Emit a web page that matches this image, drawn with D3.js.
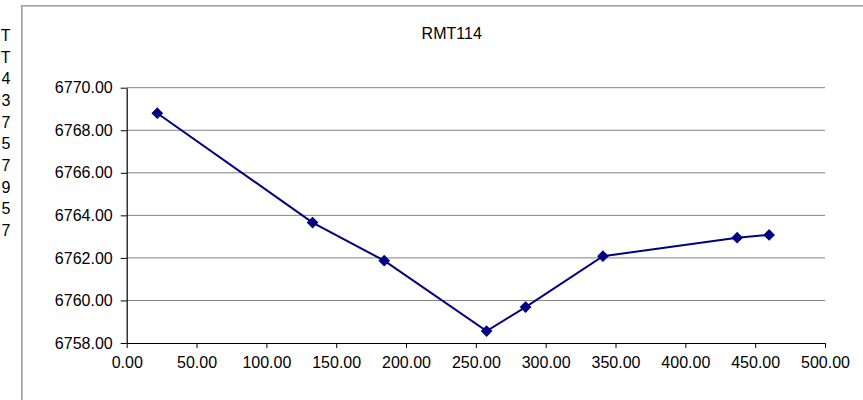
<!DOCTYPE html>
<html>
<head>
<meta charset="utf-8">
<script src="https://cdn.jsdelivr.net/npm/d3@7"></script>
<style>
  html, body { margin: 0; padding: 0; background: #fff; overflow: hidden; }
  svg { display: block; font-family: "Liberation Sans", Arial, sans-serif; }
</style>
</head>
<body>
<svg id="chart" width="863" height="400"></svg>
<script>
// ---- data ----
const title = "RMT114";
const xValues = [21.9, 133.1, 184.4, 257.7, 285.6, 341.0, 437.1, 460.0];
const yValues = [6768.80, 6763.66, 6761.87, 6758.56, 6759.69, 6762.08, 6762.95, 6763.08];
const xTicks = [0, 50, 100, 150, 200, 250, 300, 350, 400, 450, 500];
const yTicks = [6758, 6760, 6762, 6764, 6766, 6768, 6770];
const leftCellText = ["T", "T", "4", "3", "7", "5", "7", "9", "5", "7"];

const svg = d3.select("#chart");

// spreadsheet cells on the left
svg.append("g").selectAll("text")
  .data(leftCellText)
  .join("text")
  .attr("x", 10.5)
  .attr("y", (d, i) => 40.8 + i * 21.7)
  .attr("text-anchor", "end")
  .attr("font-size", 16)
  .attr("fill", "#000")
  .text(d => d);

// chart frame
svg.append("rect")
  .attr("x", 21.8).attr("y", 5.8)
  .attr("width", 1000).attr("height", 1000)
  .attr("fill", "none")
  .attr("stroke", "#a0a0a0")
  .attr("stroke-width", 1.6);

const x = d3.scaleLinear().domain([0, 500]).range([126.7, 825]);
const y = d3.scaleLinear().domain([6758, 6770]).range([343, 87.7]);

// gridlines
svg.append("g").selectAll("line")
  .data(yTicks.filter(t => t !== 6758))
  .join("line")
  .attr("x1", x(0)).attr("x2", x(500))
  .attr("y1", d => y(d)).attr("y2", d => y(d))
  .attr("stroke", "#808080")
  .attr("stroke-width", 1);

// axes
const xAxis = svg.append("g")
  .attr("transform", `translate(0,${y(6758)})`)
  .call(d3.axisBottom(x).tickValues(xTicks).tickFormat(d3.format(".2f")).tickSize(5).tickSizeOuter(0).tickPadding(9));
const yAxis = svg.append("g")
  .attr("transform", `translate(${x(0)},0)`)
  .call(d3.axisLeft(y).tickValues(yTicks).tickFormat(d3.format(".2f")).tickSize(6).tickSizeOuter(0).tickPadding(8));

[xAxis, yAxis].forEach(g => {
  g.selectAll("text").attr("font-size", 16).attr("fill", "#000")
    .attr("font-family", "'Liberation Sans', Arial, sans-serif");
  g.selectAll("line").attr("stroke", "#000");
  g.select(".domain").attr("stroke", "#000").attr("stroke-width", 1.2);
});

// title
svg.append("text")
  .attr("x", 451.7).attr("y", 39)
  .attr("text-anchor", "middle")
  .attr("font-size", 16)
  .attr("fill", "#000")
  .text(title);

// series
const pts = xValues.map((v, i) => [v, yValues[i]]);
svg.append("path")
  .datum(pts)
  .attr("fill", "none")
  .attr("stroke", "#000080")
  .attr("stroke-width", 2)
  .attr("d", d3.line().x(d => x(d[0])).y(d => y(d[1])));

svg.append("g").selectAll("path")
  .data(pts)
  .join("path")
  .attr("transform", d => `translate(${x(d[0])},${y(d[1])})`)
  .attr("d", d3.symbol().type(d3.symbolDiamond2).size(64))
  .attr("fill", "#000080")
  .attr("stroke", "#000080")
  .attr("stroke-width", 1.2);
</script>
</body>
</html>
